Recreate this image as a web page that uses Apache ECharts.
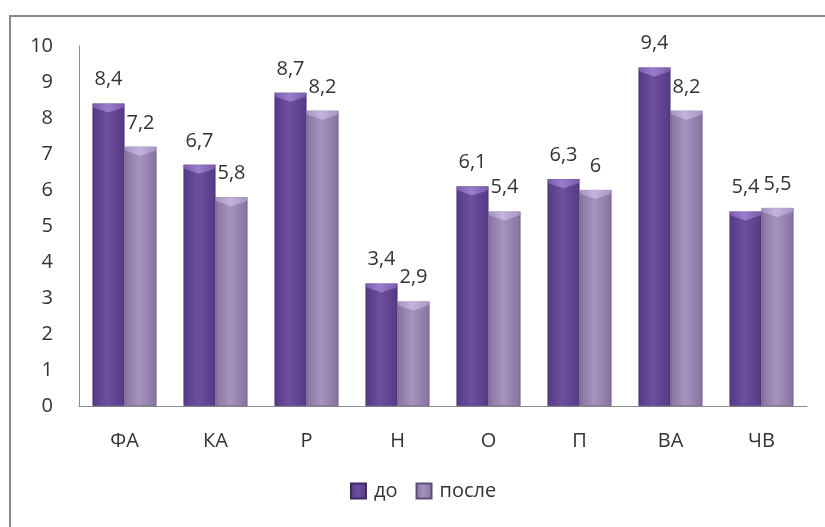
<!DOCTYPE html>
<html>
<head>
<meta charset="utf-8">
<script src="https://cdn.jsdelivr.net/npm/echarts@6/dist/echarts.min.js"></script>
<style>
  html, body { margin: 0; padding: 0; background: #fff; }
  #chart { width: 825px; height: 527px; }
</style>
</head>
<body>
<div id="chart"></div>
<script>
// Categories and values for the two measurement rounds
const categories = ['ФА', 'КА', 'Р', 'Н', 'О', 'П', 'ВА', 'ЧВ'];
const seriesNames = ['до', 'после'];
const valuesBefore = [8.4, 6.7, 8.7, 3.4, 6.1, 6.3, 9.4, 5.4];
const valuesAfter = [7.2, 5.8, 8.2, 2.9, 5.4, 6, 8.2, 5.5];
const yTicks = [0, 1, 2, 3, 4, 5, 6, 7, 8, 9, 10];

const FONT = '"Open Sans", sans-serif';
const BAR_W = 32;

function hGrad(edge, mid) {
  return new echarts.graphic.LinearGradient(0, 0, 1, 0, [
    { offset: 0, color: edge },
    { offset: 0.45, color: mid },
    { offset: 1, color: edge }
  ]);
}

const colorBefore = hGrad('#553a85', '#6e4ea0');
const colorAfter = hGrad('#87729f', '#a793c1');
const capBefore = hGrad('#7a5aac', '#9a7ccc');
const capAfter = hGrad('#a592c2', '#c4b4dc');

const labelCfg = {
  show: true,
  position: 'top',
  distance: 14,
  fontFamily: FONT,
  fontSize: 20,
  color: '#333',
  formatter: p => String(p.value).replace('.', ',')
};

// Bevelled cap drawn on top of each bar, positioned via the axis scales
function capData(values, side) {
  return values.map((v, i) => [i, v, side]);
}
function renderCap(params, api) {
  const side = api.value(2);
  const top = api.coord([api.value(0), api.value(1)]);
  const x0 = top[0] + (side === 0 ? -BAR_W : 0);
  const x1 = x0 + BAR_W;
  const xm = (x0 + x1) / 2;
  const y = top[1];
  return {
    type: 'polygon',
    shape: { points: [[x0, y], [x1, y], [x1 - 1, y + 4], [xm, y + 9], [x0 + 1, y + 4]] },
    style: { fill: side === 0 ? capBefore : capAfter },
    silent: true
  };
}

const chart = echarts.init(document.getElementById('chart'), null, { renderer: 'canvas' });
chart.setOption({
  animation: false,
  backgroundColor: '#fff',
  graphic: [{
    type: 'rect',
    silent: true,
    z: -10,
    shape: { x: 10, y: 16, width: 900, height: 600 },
    style: { fill: 'none', stroke: '#8a8a8a', lineWidth: 2 }
  }],
  grid: { left: 79, right: 18, top: 46, bottom: 121 },
  legend: {
    bottom: 21,
    left: 345,
    itemWidth: 15,
    itemHeight: 15,
    itemGap: 18,
    icon: 'rect',
    textStyle: { fontFamily: FONT, fontSize: 20, color: '#333', padding: [0, 0, 0, 3] },
    data: seriesNames
  },
  xAxis: {
    type: 'category',
    data: categories,
    axisLine: { show: true, lineStyle: { color: '#8c8c8c', width: 1 } },
    axisTick: { show: false },
    axisLabel: { margin: 25, fontFamily: FONT, fontSize: 20, color: '#333' }
  },
  yAxis: {
    type: 'value',
    min: yTicks[0],
    max: yTicks[yTicks.length - 1],
    interval: 1,
    splitLine: { show: false },
    axisLine: { show: true, lineStyle: { color: '#8c8c8c', width: 1 } },
    axisTick: { show: false },
    axisLabel: { margin: 26, fontFamily: FONT, fontSize: 20, color: '#333' }
  },
  series: [
    {
      name: seriesNames[0],
      type: 'bar',
      data: valuesBefore,
      barWidth: BAR_W,
      barGap: '0%',
      itemStyle: { color: colorBefore, borderColor: '#3f2a66', borderWidth: 0.6 },
      label: labelCfg
    },
    {
      name: seriesNames[1],
      type: 'bar',
      data: valuesAfter,
      barWidth: BAR_W,
      itemStyle: { color: colorAfter, borderColor: '#5f4f78', borderWidth: 0.6 },
      label: labelCfg
    },
    {
      type: 'custom',
      renderItem: renderCap,
      data: capData(valuesBefore, 0).concat(capData(valuesAfter, 1)),
      encode: { x: 0, y: 1 },
      z: 3,
      silent: true,
      tooltip: { show: false }
    }
  ]
});
</script>
</body>
</html>
